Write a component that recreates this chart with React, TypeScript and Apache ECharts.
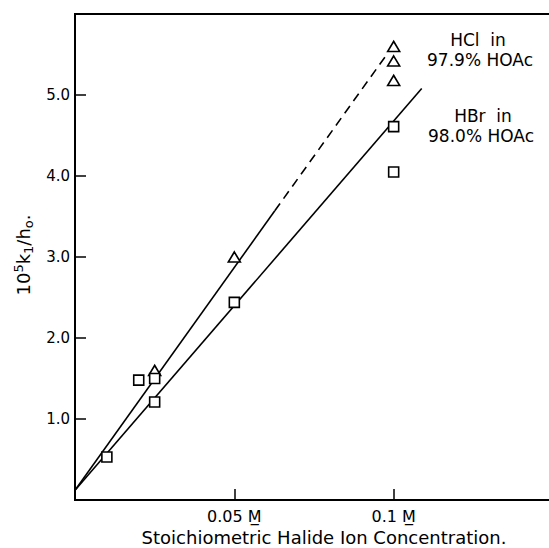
import React, { useEffect, useRef } from "react";
import * as echarts from "echarts";

// HCl in 97.9% HOAc (triangles)
const hclX = [0.025, 0.05, 0.1, 0.1, 0.1];
const hclY = [1.6, 3.0, 5.6, 5.42, 5.18];
// HBr in 98.0% HOAc (squares)
const hbrX = [0.01, 0.02, 0.025, 0.025, 0.05, 0.1, 0.1];
const hbrY = [0.53, 1.48, 1.5, 1.21, 2.44, 4.61, 4.05];
// fitted lines
const hclSolidX = [0, 0.0627];
const hclSolidY = [0.12, 3.57];
const hclDashX = [0.0627, 0.0982];
const hclDashY = [3.57, 5.52];
const hbrLineX = [0, 0.1088];
const hbrLineY = [0.12, 5.08];
// tick labels
const yTickLabels = ["1.0", "2.0", "3.0", "4.0", "5.0"];
const xTickLabels = ["0.05 M\u0332", "0.1 M\u0332"];

const zip = (xs: number[], ys: number[]) => xs.map((x, i) => [x, ys[i]]);

const FONT = "DejaVu Sans";

export default function App() {
  const ref = useRef<HTMLDivElement>(null);
  useEffect(() => {
    if (!ref.current) return;
    const chart = echarts.init(ref.current, undefined, { renderer: "svg" });
    const lineBase = { type: "line", symbol: "none", silent: true, z: 2 };
    const ann = (text: string, x: number, y: number) => ({
      type: "text",
      x,
      y,
      style: {
        text,
        font: `17px '${FONT}'`,
        fill: "#000",
        textAlign: "center",
        textVerticalAlign: "top",
      },
    });
    chart.setOption({
      animation: false,
      backgroundColor: "#fff",
      grid: {
        left: 75,
        top: 14,
        width: 478,
        bottom: 48,
        outerBoundsMode: "none",
        containLabel: false,
        show: true,
        borderColor: "#000",
        borderWidth: 2,
      },
      xAxis: {
        type: "value",
        min: 0,
        max: 0.15,
        interval: 0.05,
        splitLine: { show: false },
        axisLine: { lineStyle: { color: "#000", width: 2 } },
        axisTick: { inside: true, length: 11, lineStyle: { color: "#000", width: 1.5 } },
        axisLabel: {
          color: "#000",
          fontFamily: FONT,
          fontSize: 16,
          margin: 8,
          formatter: (v: number) => {
            if (Math.abs(v - 0.05) < 1e-6) return xTickLabels[0];
            if (Math.abs(v - 0.1) < 1e-6) return xTickLabels[1];
            return "";
          },
        },
        name: "Stoichiometric Halide Ion Concentration.",
        nameLocation: "middle",
        nameGap: 21,
        nameTextStyle: { color: "#000", fontFamily: FONT, fontSize: 18, padding: [0, 0, 0, 20] },
      },
      yAxis: {
        type: "value",
        min: 0,
        max: 6,
        interval: 1,
        splitLine: { show: false },
        axisLine: { lineStyle: { color: "#000", width: 2 } },
        axisTick: { inside: true, length: 11, lineStyle: { color: "#000", width: 1.5 } },
        axisLabel: {
          color: "#000",
          fontFamily: FONT,
          fontSize: 15,
          margin: 5,
          formatter: (v: number) => {
            const i = Math.round(v) - 1;
            return i >= 0 && i < yTickLabels.length ? yTickLabels[i] : "";
          },
        },
        name: "{a|10}{sup|5}{a|k}{sub|1}{a|/h}{sub|o}{a|.}",
        nameLocation: "middle",
        nameGap: 34,
        nameTextStyle: {
          color: "#000",
          padding: [0, 0, 0, 4],
          rich: {
            a: { fontFamily: FONT, fontSize: 18, color: "#000" },
            sup: { fontFamily: FONT, fontSize: 13, color: "#000", verticalAlign: "top", padding: [0, 0, 10, 0] },
            sub: { fontFamily: FONT, fontSize: 13, color: "#000", verticalAlign: "bottom", padding: [8, 0, 0, 0] },
          },
        },
      },
      graphic: [
        ann("HCl  in", 478, 31),
        ann("97.9% HOAc", 480, 51),
        ann("HBr  in", 483, 107),
        ann("98.0% HOAc", 481, 127),
      ],
      series: [
        { ...lineBase, data: zip(hclSolidX, hclSolidY), lineStyle: { color: "#000", width: 1.6 } },
        { ...lineBase, data: zip(hclDashX, hclDashY), lineStyle: { color: "#000", width: 1.6, type: [9, 6] } },
        { ...lineBase, data: zip(hbrLineX, hbrLineY), lineStyle: { color: "#000", width: 1.6 } },
        {
          name: "HCl in 97.9% HOAc",
          type: "scatter",
          symbol: "triangle",
          symbolSize: [12, 10],
          z: 3,
          data: zip(hclX, hclY),
          itemStyle: { color: "#fff", borderColor: "#000", borderWidth: 1.6, opacity: 1 },
        },
        {
          name: "HBr in 98.0% HOAc",
          type: "scatter",
          symbol: "rect",
          symbolSize: 10,
          z: 3,
          data: zip(hbrX, hbrY),
          itemStyle: { color: "#fff", borderColor: "#000", borderWidth: 1.6, opacity: 1 },
        },
      ],
    });
    return () => chart.dispose();
  }, []);
  return (
    <div
      ref={ref}
      style={{ position: "absolute", left: 0, top: 0, width: 549, height: 548, background: "#fff" }}
    />
  );
}
